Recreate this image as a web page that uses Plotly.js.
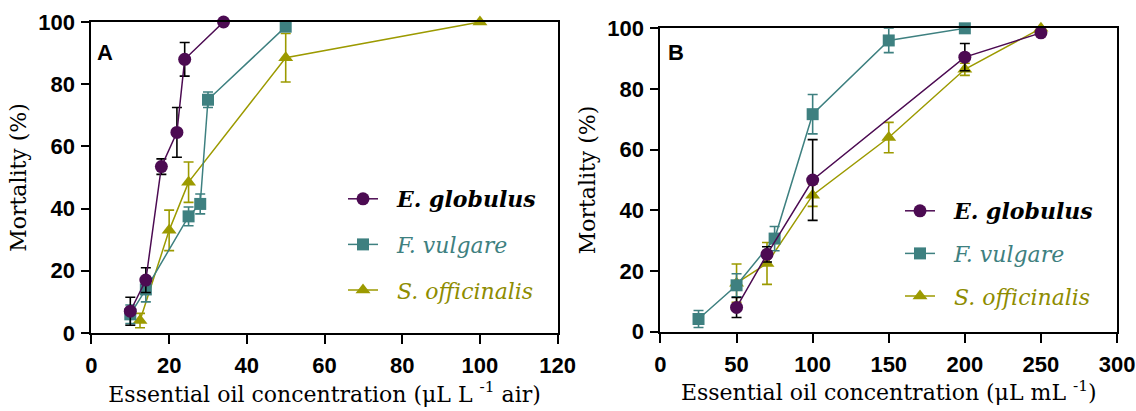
<!DOCTYPE html>
<html>
<head>
<meta charset="utf-8">
<script src="https://cdn.plot.ly/plotly-3.0.1.min.js"></script>
<style>html,body{margin:0;padding:0;background:#fff;}#chart{width:1136px;height:411px;}</style>
</head>
<body>
<div id="chart"></div>
<script>
// Panel A (vapour phase, µL L-1 air)
const aEgX = [10, 14, 18, 22, 24, 34];
const aEgY = [7, 17, 53.5, 64.5, 88, 100];
const aEgE = [4.5, 4, 2.5, 8, 5.4, 0];
const aFvX = [10, 14, 25, 28, 30, 50];
const aFvY = [6, 14, 37.5, 41.5, 75, 98.5];
const aFvE = [3, 4, 3, 3.2, 2.5, 1.5];
const aSoX = [12.5, 20, 25, 50, 100];
const aSoY = [4, 33, 48.5, 88.5, 100];
const aSoE = [2.3, 6.5, 6.5, 7.8, 0];

// Panel B (µL mL-1)
const bEgX = [50, 70, 100, 200, 250];
const bEgY = [8, 25.5, 50, 90.5, 98.5];
const bEgE = [3.3, 2.5, 13.3, 4.5, 0];
const bFvX = [25, 50, 75, 100, 150, 200];
const bFvY = [4.2, 15.3, 30.7, 71.7, 96, 100];
const bFvE = [2.8, 3.8, 4, 6.5, 4, 0];
const bSoX = [50, 70, 100, 150, 200, 250];
const bSoY = [16, 22.5, 45, 64, 86.5, 100];
const bSoE = [6.3, 6.9, 3.7, 5, 2, 0];

const yTicks = [0, 20, 40, 60, 80, 100];
const aXTicks = [0, 20, 40, 60, 80, 100, 120];
const bXTicks = [0, 50, 100, 150, 200, 250, 300];

const cPurple = '#4c0b52';
const cTeal = '#3e8080';
const cOlive = '#9c9a00';

const sp = '\u00a0\u00a0';
const nameEg = sp + '<span style="color:#000000"><b><i>E. globulus</i></b></span>';
const nameFv = sp + '<span style="color:#3e8080"><i>F. vulgare</i></span>';
const nameSo = sp + '<span style="color:#8e8c00"><i>S. officinalis</i></span>';

function tr(x, y, e, color, ecolor, symbol, size, name, xa, ya, leg, grp, rank) {
  return {
    type: 'scatter', mode: 'lines+markers', x: x, y: y, name: name,
    xaxis: xa, yaxis: ya, legend: leg, legendgroup: grp, legendrank: rank,
    cliponaxis: false,
    line: {color: color, width: 1.5},
    marker: {color: color, symbol: symbol, size: size, line: {width: 0}},
    error_y: {type: 'data', array: e, visible: true, color: ecolor, thickness: 1.6, width: 5}
  };
}

const data = [
  tr(aSoX, aSoY, aSoE, cOlive, cOlive, 'triangle-up', 13, nameSo, 'x', 'y', 'legend', 'a3', 3),
  tr(aFvX, aFvY, aFvE, cTeal, cTeal, 'square', 12, nameFv, 'x', 'y', 'legend', 'a2', 2),
  tr(aEgX, aEgY, aEgE, cPurple, '#000000', 'circle', 13, nameEg, 'x', 'y', 'legend', 'a1', 1),
  tr(bSoX, bSoY, bSoE, cOlive, cOlive, 'triangle-up', 13, nameSo, 'x2', 'y2', 'legend2', 'b3', 3),
  tr(bFvX, bFvY, bFvE, cTeal, cTeal, 'square', 12, nameFv, 'x2', 'y2', 'legend2', 'b2', 2),
  tr(bEgX, bEgY, bEgE, cPurple, '#000000', 'circle', 13, nameEg, 'x2', 'y2', 'legend2', 'b1', 1)
];

const tickFont = {family: 'Liberation Sans, Arial, sans-serif', size: 22, color: '#000', weight: 'bold'};
const titleFont = {family: 'DejaVu Serif, serif', size: 22, color: '#000'};

function xax(domain, range, ticks, anchor, title) {
  return {
    domain: domain, range: range, anchor: anchor, tickmode: 'array', tickvals: ticks, ticktext: ticks.map(String),
    ticks: 'outside', ticklen: 9, tickwidth: 2, tickcolor: '#000',
    showline: true, linewidth: 2, linecolor: '#000', mirror: true,
    showgrid: false, zeroline: false, tickfont: tickFont, ticklabelstandoff: 3,
    title: {text: title, font: titleFont, standoff: 8}
  };
}
function yax(domain, anchor) {
  return {
    domain: domain, range: [0, 100], anchor: anchor, tickmode: 'array', tickvals: yTicks, ticktext: yTicks.map(String),
    ticks: 'outside', ticklen: 8, tickwidth: 2, tickcolor: '#000',
    showline: true, linewidth: 2, linecolor: '#000', mirror: true,
    showgrid: false, zeroline: false, tickfont: tickFont, ticklabelstandoff: 2,
    title: {text: 'Mortality (%)', font: titleFont, standoff: 6}
  };
}

const legFont = {family: 'DejaVu Serif, serif', size: 22, color: '#000'};

const layout = {
  width: 1136, height: 411,
  margin: {l: 0, r: 0, t: 0, b: 0},
  paper_bgcolor: '#fff', plot_bgcolor: '#fff',
  showlegend: true,
  xaxis: xax([0.0805, 0.4909], [0, 120], aXTicks, 'y', 'Essential oil concentration (μL L <sup>-1</sup> air)'),
  yaxis: yax([0.1898, 0.9465], 'x'),
  xaxis2: xax([0.5814, 0.9833], [0, 300], bXTicks, 'y2', 'Essential oil concentration (μL mL <sup>-1</sup>)'),
  yaxis2: yax([0.1929, 0.9311], 'x2'),
  legend: {x: 343/1136, y: 1 - 178/411, xanchor: 'left', yanchor: 'top', font: legFont,
           traceorder: 'grouped', tracegroupgap: 14, bgcolor: 'rgba(0,0,0,0)'},
  legend2: {x: 900/1136, y: 1 - 190/411, xanchor: 'left', yanchor: 'top', font: legFont,
            traceorder: 'grouped', tracegroupgap: 11, bgcolor: 'rgba(0,0,0,0)'},
  annotations: [
    {text: '<b>A</b>', x: 105/1136, y: 1 - 52/411, xref: 'paper', yref: 'paper', xanchor: 'center', yanchor: 'middle',
     showarrow: false, font: {family: 'Liberation Sans, Arial, sans-serif', size: 22, color: '#000'}},
    {text: '<b>B</b>', x: 676/1136, y: 1 - 52/411, xref: 'paper', yref: 'paper', xanchor: 'center', yanchor: 'middle',
     showarrow: false, font: {family: 'Liberation Sans, Arial, sans-serif', size: 22, color: '#000'}}
  ]
};

Plotly.newPlot('chart', data, layout, {staticPlot: true, displayModeBar: false});
</script>
</body>
</html>
